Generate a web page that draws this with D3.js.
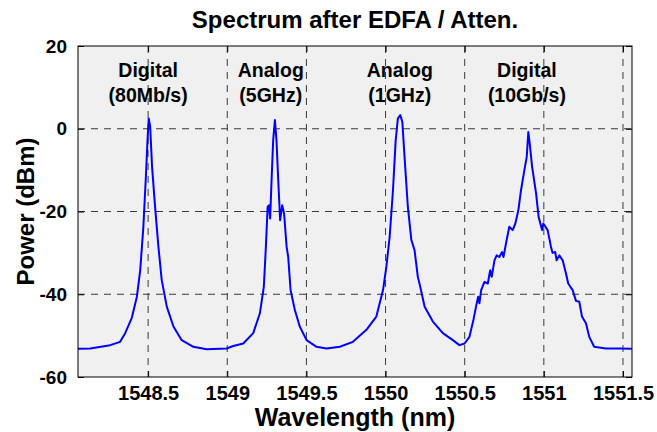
<!DOCTYPE html>
<html>
<head>
<meta charset="utf-8">
<script src="https://cdn.jsdelivr.net/npm/d3@7"></script>
<style>
body { margin: 0; background: #fff; }
text { font-family: "Liberation Sans", Arial, sans-serif; font-weight: bold; fill: #000; }
</style>
</head>
<body>
<svg id="chart" width="657" height="432"></svg>
<script>
// spectrum (nm, dBm)
const wavelength = [
    1548.057, 1548.134, 1548.260, 1548.323, 1548.355, 1548.397, 1548.429, 1548.450, 1548.470, 1548.487,
    1548.496, 1548.504, 1548.513, 1548.525, 1548.544, 1548.565, 1548.586, 1548.618, 1548.660, 1548.712,
    1548.786, 1548.870, 1548.996, 1549.038, 1549.101, 1549.164, 1549.206, 1549.231, 1549.244, 1549.255,
    1549.263, 1549.271, 1549.280, 1549.290, 1549.301, 1549.311, 1549.322, 1549.334, 1549.347, 1549.359,
    1549.375, 1549.385, 1549.400, 1549.427, 1549.458, 1549.501, 1549.564, 1549.627, 1549.711, 1549.794,
    1549.879, 1549.942, 1549.984, 1550.005, 1550.026, 1550.047, 1550.064, 1550.078, 1550.093, 1550.106,
    1550.120, 1550.141, 1550.163, 1550.183, 1550.204, 1550.215, 1550.247, 1550.299, 1550.362, 1550.425,
    1550.467, 1550.499, 1550.530, 1550.555, 1550.576, 1550.585, 1550.593, 1550.604, 1550.625, 1550.646,
    1550.661, 1550.671, 1550.688, 1550.702, 1550.719, 1550.736, 1550.745, 1550.765, 1550.782, 1550.803,
    1550.820, 1550.839, 1550.856, 1550.877, 1550.892, 1550.902, 1550.911, 1550.926, 1550.951, 1550.967,
    1550.989, 1550.997, 1551.024, 1551.045, 1551.055, 1551.072, 1551.081, 1551.098, 1551.119, 1551.140,
    1551.154, 1551.182, 1551.203, 1551.224, 1551.241, 1551.266, 1551.287, 1551.318, 1551.392, 1551.476,
    1551.557
];
const power = [
    -53.2, -53.1, -52.3, -51.5, -49.4, -45.7, -40.6, -34.2, -23.7, -10.7,
    -2.8, 2.5, 0.5, -9.2, -18.9, -28.5, -36.6, -43.0, -47.8, -51.1,
    -52.7, -53.3, -53.1, -52.5, -51.9, -49.4, -44.6, -38.2, -28.5, -18.9,
    -18.5, -21.7, -12.4, -2.8, 2.1, -2.8, -12.4, -22.1, -18.5, -20.5,
    -28.5, -31.0, -39.0, -43.8, -47.8, -51.1, -52.7, -53.1, -52.7, -51.5,
    -48.6, -45.4, -39.0, -33.4, -26.1, -14.8, -2.8, 2.5, 3.3, 1.7,
    -6.8, -18.9, -26.9, -29.3, -35.8, -37.5, -43.0, -46.6, -49.4, -51.1,
    -52.3, -51.9, -50.3, -46.2, -42.2, -40.6, -42.2, -39.0, -37.0, -37.4,
    -34.2, -35.8, -31.8, -30.6, -31.0, -29.8, -31.0, -26.9, -23.7, -24.5,
    -22.9, -19.7, -14.8, -10.0, -6.8, -0.8, -3.6, -9.2, -15.6, -21.3,
    -24.5, -22.9, -24.5, -28.5, -30.0, -29.8, -31.8, -30.6, -31.8, -35.0,
    -37.4, -39.0, -41.6, -41.8, -45.4, -47.0, -50.3, -52.7, -53.1, -53.1,
    -53.2
];

const xTicks = [1548.5, 1549, 1549.5, 1550, 1550.5, 1551, 1551.5];
const yTicks = [-60, -40, -20, 0, 20];

const labelAt = [1548.5, 1549.275, 1550.09, 1550.893];
const labelTop = ["Digital", "Analog", "Analog", "Digital"];
const labelBottom = ["(80Mb/s)", "(5GHz)", "(1GHz)", "(10Gb/s)"];

const svg = d3.select("#chart");
const margin = {left: 78, right: 25, top: 46, bottom: 55};
const width = 657 - margin.left - margin.right;
const height = 432 - margin.top - margin.bottom;

const x = d3.scaleLinear().domain([1548.057, 1551.557]).range([0, width]);
const y = d3.scaleLinear().domain([-60, 20]).range([height, 0]);

const g = svg.append("g").attr("transform", `translate(${margin.left},${margin.top})`);

g.append("rect")
    .attr("width", width)
    .attr("height", height)
    .attr("fill", "#f0f0f0");

// dashed grid
g.append("g")
    .selectAll("line")
    .data(xTicks)
    .enter().append("line")
    .attr("x1", d => x(d)).attr("x2", d => x(d))
    .attr("y1", 0).attr("y2", height)
    .attr("stroke", "#3a3a3a")
    .attr("stroke-width", 1)
    .attr("stroke-dasharray", "7,6");

g.append("g")
    .selectAll("line")
    .data(yTicks.filter(d => d > -60 && d < 20))
    .enter().append("line")
    .attr("x1", 0).attr("x2", width)
    .attr("y1", d => y(d)).attr("y2", d => y(d))
    .attr("stroke", "#3a3a3a")
    .attr("stroke-width", 1)
    .attr("stroke-dasharray", "7,6");

const line = d3.line()
    .x((d, i) => x(wavelength[i]))
    .y(d => y(d));

g.append("path")
    .datum(power)
    .attr("d", line)
    .attr("fill", "none")
    .attr("stroke", "#0000ff")
    .attr("stroke-width", 2)
    .attr("stroke-linejoin", "round");

// box
g.append("rect")
    .attr("width", width)
    .attr("height", height)
    .attr("fill", "none")
    .attr("stroke", "#000")
    .attr("stroke-width", 1);

// axes, ticks point inward like matlab
const xAxis = g.append("g")
    .attr("transform", `translate(0,${height})`)
    .call(d3.axisBottom(x).tickValues(xTicks).tickFormat(d => String(d)).tickSize(-6).tickPadding(9));
const xTop = g.append("g")
    .call(d3.axisTop(x).tickValues(xTicks).tickFormat("").tickSize(-6));
const yAxis = g.append("g")
    .call(d3.axisLeft(y).tickValues(yTicks).tickFormat(d => String(d)).tickSize(-6).tickPadding(11));
const yRight = g.append("g")
    .attr("transform", `translate(${width},0)`)
    .call(d3.axisRight(y).tickValues(yTicks).tickFormat("").tickSize(-6));
[xAxis, xTop, yAxis, yRight].forEach(a => {
    a.select(".domain").remove();
    a.selectAll("line").attr("stroke", "#000");
});
xAxis.selectAll("text").attr("font-size", 20).attr("fill", "#000").attr("dy", "0.71em");
yAxis.selectAll("text").attr("font-size", 19).attr("fill", "#000");

// peak labels
const labels = g.append("g")
    .selectAll("text")
    .data(labelAt)
    .enter().append("text")
    .attr("text-anchor", "middle")
    .attr("font-size", 19.5)
    .attr("x", d => x(d));
labels.append("tspan")
    .attr("x", d => x(d))
    .attr("y", 31)
    .text((d, i) => labelTop[i]);
labels.append("tspan")
    .attr("x", d => x(d))
    .attr("y", 56)
    .text((d, i) => labelBottom[i]);

// titles
svg.append("text")
    .attr("x", margin.left + width / 2)
    .attr("y", 28)
    .attr("text-anchor", "middle")
    .attr("font-size", 24)
    .text("Spectrum after EDFA / Atten.");

svg.append("text")
    .attr("x", margin.left + width / 2)
    .attr("y", 426)
    .attr("text-anchor", "middle")
    .attr("font-size", 25)
    .text("Wavelength (nm)");

svg.append("text")
    .attr("transform", `translate(34,${margin.top + height / 2}) rotate(-90)`)
    .attr("text-anchor", "middle")
    .attr("font-size", 24)
    .text("Power (dBm)");
</script>
</body>
</html>
